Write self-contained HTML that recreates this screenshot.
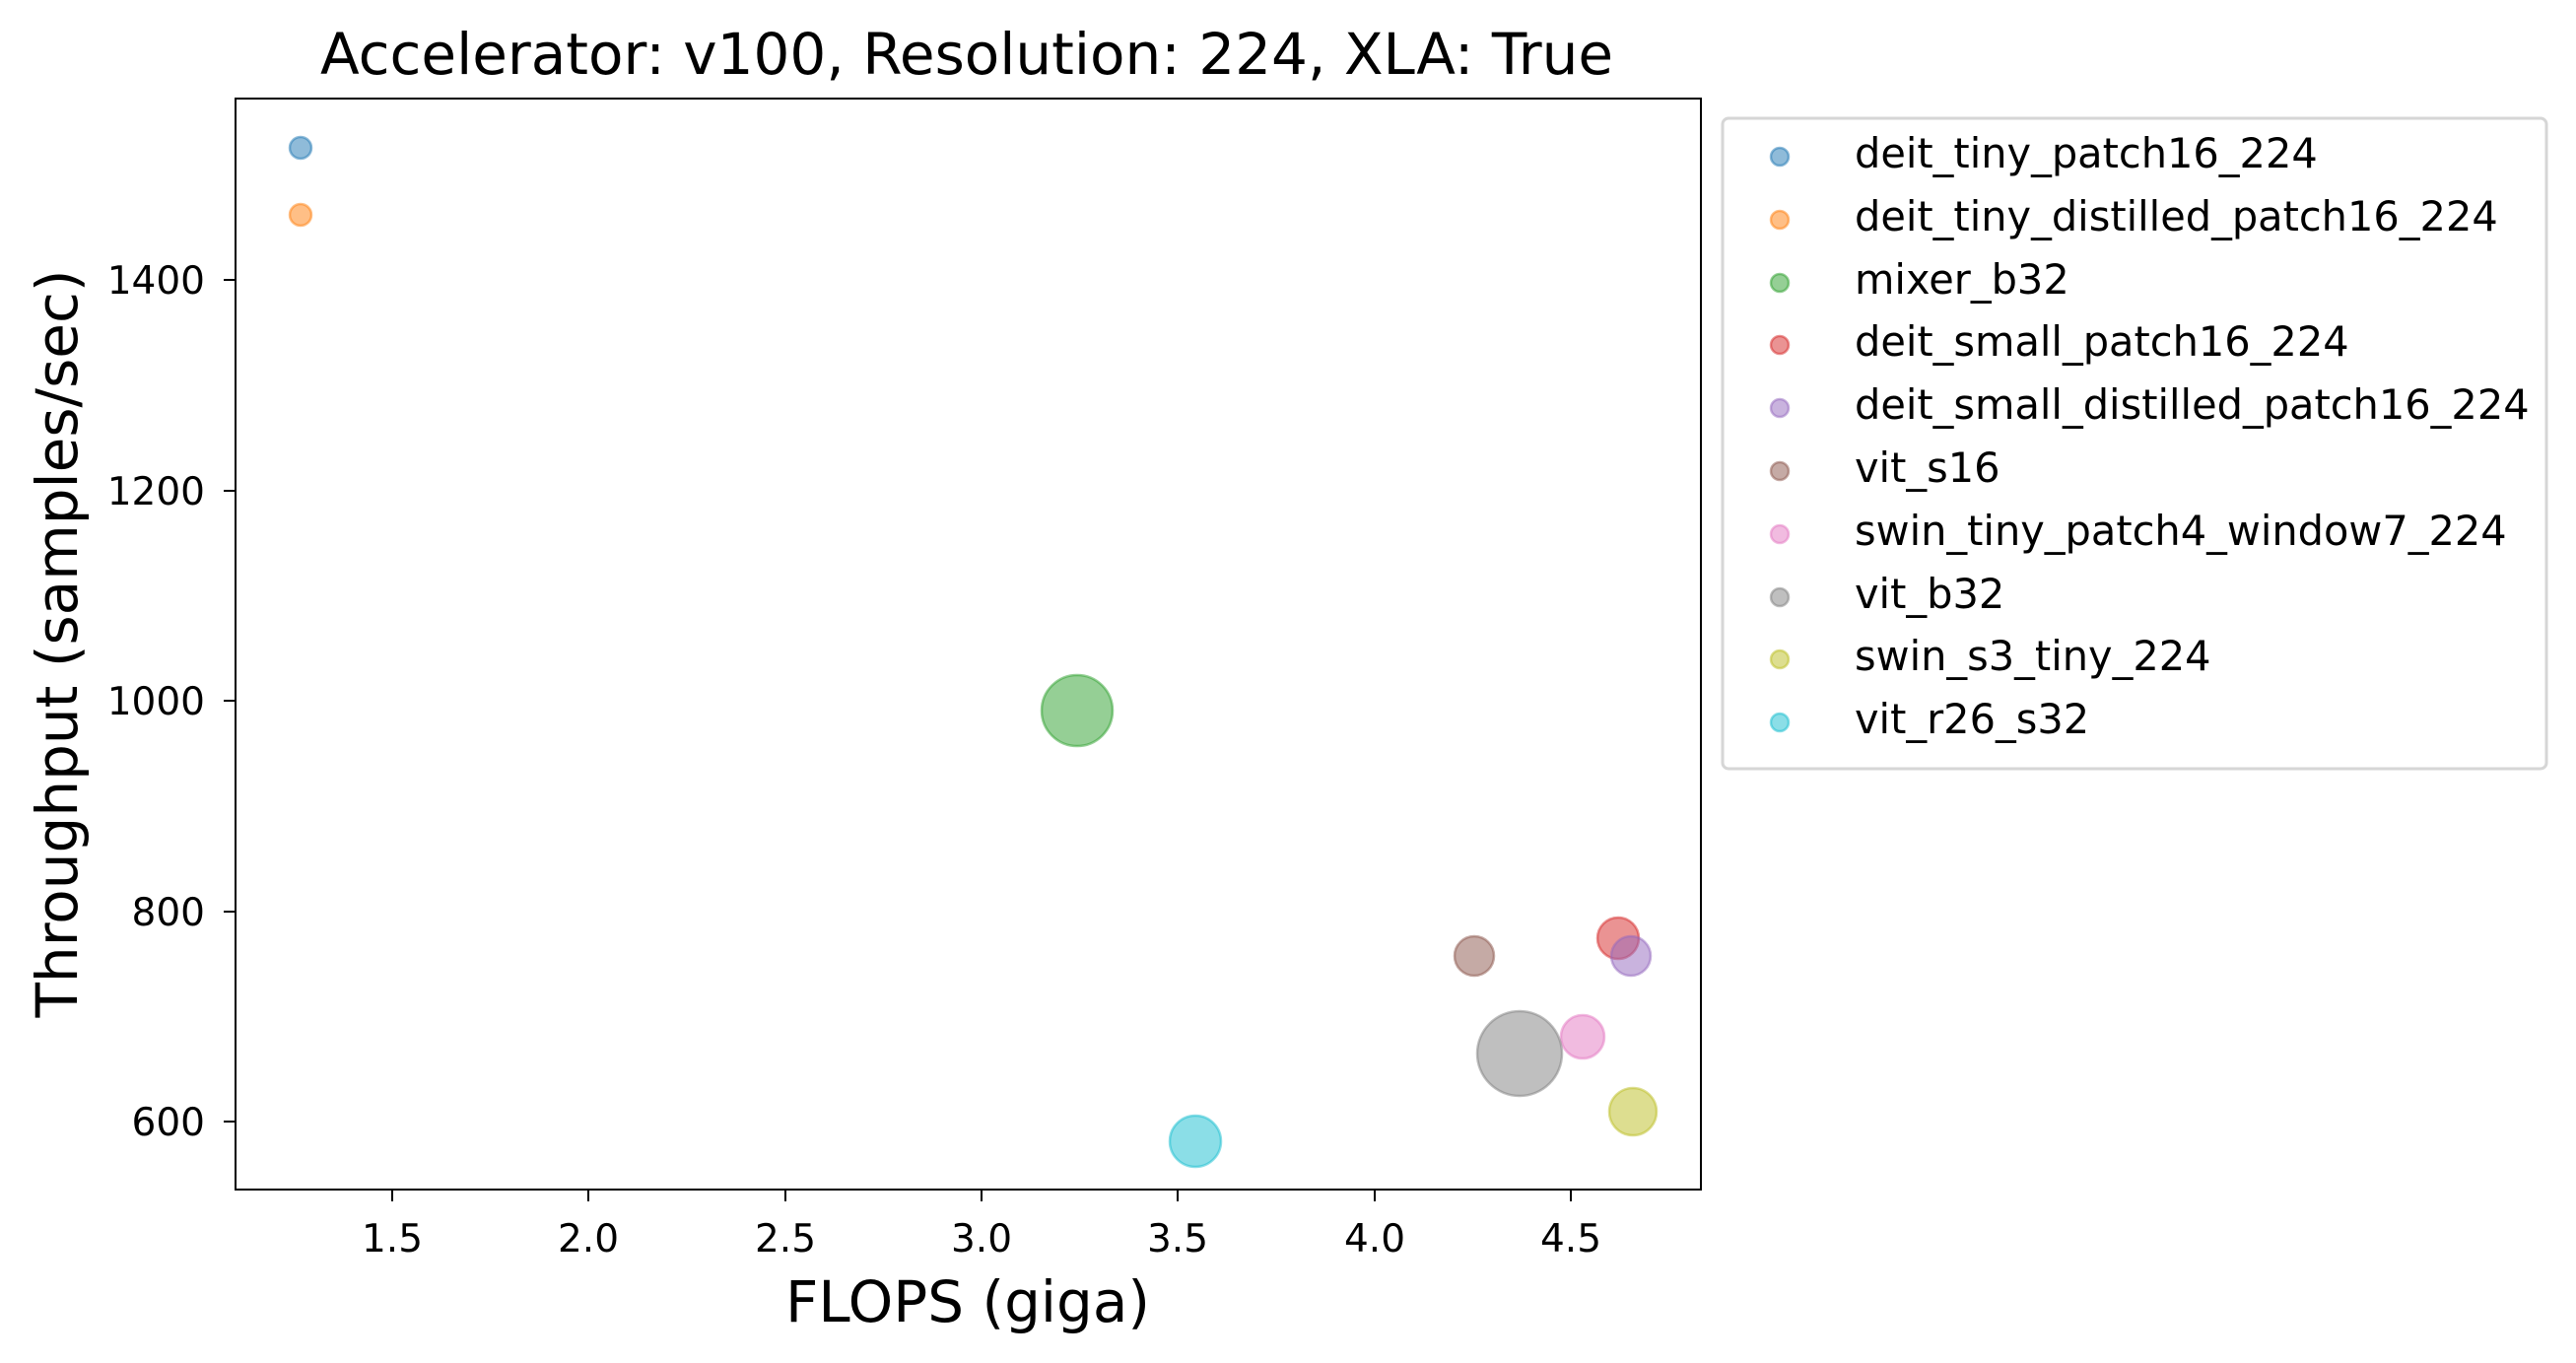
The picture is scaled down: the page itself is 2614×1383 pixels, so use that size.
<!DOCTYPE html>
<html><head><style>body{margin:0;background:#fff}svg{display:block}text{font-family:"DejaVu Sans","Liberation Sans",sans-serif;fill:#000}</style></head>
<body>
<svg width="2614" height="1383" viewBox="0 0 2614 1383" xmlns="http://www.w3.org/2000/svg">
<rect width="2614" height="1383" fill="#fff"/>
<text x="981" y="75" font-size="58" text-anchor="middle">Accelerator: v100, Resolution: 224, XLA: True</text>
<g fill-opacity="0.5" stroke-opacity="0.5" stroke-width="2.5">
<circle cx="305" cy="150" r="11" fill="#1f77b4" stroke="#1f77b4"/>
<circle cx="305" cy="218" r="11" fill="#ff7f0e" stroke="#ff7f0e"/>
<circle cx="1093" cy="721" r="36" fill="#2ca02c" stroke="#2ca02c"/>
<circle cx="1642" cy="952" r="21" fill="#d62728" stroke="#d62728"/>
<circle cx="1655" cy="970" r="20" fill="#9467bd" stroke="#9467bd"/>
<circle cx="1496" cy="970" r="20" fill="#8c564b" stroke="#8c564b"/>
<circle cx="1606" cy="1052" r="22" fill="#e377c2" stroke="#e377c2"/>
<circle cx="1542" cy="1069" r="43" fill="#7f7f7f" stroke="#7f7f7f"/>
<circle cx="1657" cy="1128" r="24" fill="#bcbd22" stroke="#bcbd22"/>
<circle cx="1213" cy="1158" r="26" fill="#17becf" stroke="#17becf"/>
</g>
<rect x="239" y="100" width="1487" height="1107" fill="none" stroke="#000" stroke-width="2"/>
<g stroke="#000" stroke-width="2">
<line x1="398" y1="1207" x2="398" y2="1219"/><line x1="597" y1="1207" x2="597" y2="1219"/><line x1="797" y1="1207" x2="797" y2="1219"/><line x1="996" y1="1207" x2="996" y2="1219"/><line x1="1195" y1="1207" x2="1195" y2="1219"/><line x1="1395" y1="1207" x2="1395" y2="1219"/><line x1="1594" y1="1207" x2="1594" y2="1219"/>
<line x1="227" y1="284" x2="239" y2="284"/><line x1="227" y1="498" x2="239" y2="498"/><line x1="227" y1="711" x2="239" y2="711"/><line x1="227" y1="925" x2="239" y2="925"/><line x1="227" y1="1138" x2="239" y2="1138"/>
</g>
<g font-size="39" text-anchor="middle">
<text x="398" y="1270">1.5</text><text x="597" y="1270">2.0</text><text x="797" y="1270">2.5</text><text x="996" y="1270">3.0</text><text x="1195" y="1270">3.5</text><text x="1395" y="1270">4.0</text><text x="1594" y="1270">4.5</text>
</g>
<g font-size="39" text-anchor="end">
<text x="208" y="298">1400</text><text x="208" y="512">1200</text><text x="208" y="725">1000</text><text x="208" y="939">800</text><text x="208" y="1152">600</text>
</g>
<text x="982" y="1341" font-size="58" text-anchor="middle">FLOPS (giga)</text>
<text transform="translate(78,653) rotate(-90)" font-size="58" text-anchor="middle">Throughput (samples/sec)</text>
<rect x="1748" y="120" width="836" height="660" rx="6" fill="#fff" stroke="#d6d6d6" stroke-width="3"/>
<g fill-opacity="0.5" stroke-opacity="0.5" stroke-width="2.5">
<circle cx="1806" cy="159" r="9" fill="#1f77b4" stroke="#1f77b4"/>
<circle cx="1806" cy="223" r="9" fill="#ff7f0e" stroke="#ff7f0e"/>
<circle cx="1806" cy="287" r="9" fill="#2ca02c" stroke="#2ca02c"/>
<circle cx="1806" cy="350" r="9" fill="#d62728" stroke="#d62728"/>
<circle cx="1806" cy="414" r="9" fill="#9467bd" stroke="#9467bd"/>
<circle cx="1806" cy="478" r="9" fill="#8c564b" stroke="#8c564b"/>
<circle cx="1806" cy="542" r="9" fill="#e377c2" stroke="#e377c2"/>
<circle cx="1806" cy="606" r="9" fill="#7f7f7f" stroke="#7f7f7f"/>
<circle cx="1806" cy="669" r="9" fill="#bcbd22" stroke="#bcbd22"/>
<circle cx="1806" cy="733" r="9" fill="#17becf" stroke="#17becf"/>
</g>
<g font-size="41.5">
<text x="1882" y="170">deit_tiny_patch16_224</text>
<text x="1882" y="234">deit_tiny_distilled_patch16_224</text>
<text x="1882" y="298">mixer_b32</text>
<text x="1882" y="361">deit_small_patch16_224</text>
<text x="1882" y="425">deit_small_distilled_patch16_224</text>
<text x="1882" y="489">vit_s16</text>
<text x="1882" y="553">swin_tiny_patch4_window7_224</text>
<text x="1882" y="617">vit_b32</text>
<text x="1882" y="680">swin_s3_tiny_224</text>
<text x="1882" y="744">vit_r26_s32</text>
</g>
</svg>
</body></html>
